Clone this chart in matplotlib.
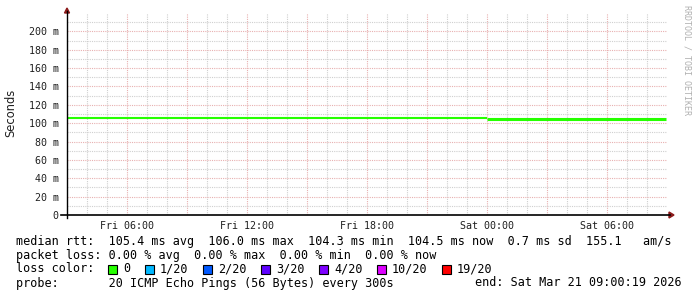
import matplotlib
matplotlib.use("Agg")
import matplotlib.pyplot as plt
from matplotlib.patches import Rectangle, Polygon
from matplotlib.lines import Line2D

# ---- data (hours since Fri 03:00) ----
hours_before = [0.0, 3.0, 6.0, 9.0, 12.0, 15.0, 18.0, 21.0]
rtt_before = [105.9, 105.9, 105.9, 105.9, 105.9, 105.9, 105.9, 105.9]
hours_after = [21.0, 22.0, 24.0, 26.0, 28.0, 29.95]
rtt_after = [104.5, 104.5, 104.5, 104.5, 104.5, 104.5]
tick_hours = [3, 9, 15, 21, 27]
tick_labels = ["Fri 06:00", "Fri 12:00", "Fri 18:00", "Sat 00:00", "Sat 06:00"]
y_ticks = [0, 20, 40, 60, 80, 100, 120, 140, 160, 180, 200]
y_labels = ["0"] + [f"{v} m" for v in y_ticks[1:]]
loss_labels = ["0", "1/20", "2/20", "3/20", "4/20", "10/20", "19/20"]
loss_colors = ["#26ff00", "#00b8ff", "#0059ff", "#5e00ff", "#7e00ff", "#dd00ff", "#ff0000"]
legend_line1 = "median rtt:  105.4 ms avg  106.0 ms max  104.3 ms min  104.5 ms now  0.7 ms sd  155.1   am/s"
legend_line2 = "packet loss: 0.00 % avg  0.00 % max  0.00 % min  0.00 % now"
probe_text = "probe:       20 ICMP Echo Pings (56 Bytes) every 300s"
end_text = "end: Sat Mar 21 09:00:19 2026"

W, H = 697, 297
fig = plt.figure(figsize=(W / 100, H / 100), dpi=100)
fig.patch.set_facecolor("white")

def fx(px):
    return px / W

def fy(py):
    return 1 - py / H

x0, x1, ytop, ybot = 67, 667, 13, 215
ax = fig.add_axes([fx(x0), fy(ybot), fx(x1) - fx(x0), fy(ytop) - fy(ybot)])
ax.set_xlim(0, 30)
ax.set_ylim(0, 220)
for s in ax.spines.values():
    s.set_visible(False)
ax.set_facecolor("white")

mono = "DejaVu Sans Mono"
minor_c = "#cfcfcf"
major_c = "#e8b0b0"
dash = (0, (1, 1))
# grid
for h in range(1, 30):
    if h % 3 == 0:
        continue
    ax.axvline(h, color=minor_c, lw=0.8, ls=dash, zorder=1)
for h in range(3, 30, 3):
    ax.axvline(h, color=major_c, lw=0.8, ls=dash, zorder=1)
for v in range(10, 220, 20):
    ax.axhline(v, color=minor_c, lw=0.8, ls=dash, zorder=1)
for v in y_ticks[1:]:
    ax.axhline(v, color=major_c, lw=0.8, ls=dash, zorder=1)

# data
ax.plot(hours_before, rtt_before, color=loss_colors[0], lw=1.5, solid_capstyle="butt", zorder=3)
ax.plot(hours_after, rtt_after, color=loss_colors[0], lw=2.2, solid_capstyle="butt", zorder=3)

ax.set_xticks(tick_hours)
ax.set_xticklabels(tick_labels, fontfamily=mono, fontsize=7.2)
ax.set_yticks(y_ticks)
ax.set_yticklabels(y_labels, fontfamily=mono, fontsize=7.2)
ax.tick_params(axis="both", length=0, colors="#202020")
ax.tick_params(axis="y", pad=6)
ax.tick_params(axis="x", pad=4)

# axis lines and arrows
fig.add_artist(Line2D([fx(61), fx(670)], [fy(215), fy(215)], color="black", lw=1.2))
fig.add_artist(Line2D([fx(67), fx(67)], [fy(218), fy(11)], color="black", lw=1.0))
fig.add_artist(Polygon([[fx(669), fy(212)], [fx(674), fy(215)], [fx(669), fy(218)]],
                       closed=True, color="#8b1a1a", transform=fig.transFigure))
fig.add_artist(Polygon([[fx(64.5), fy(13)], [fx(67), fy(8)], [fx(69.5), fy(13)]],
                       closed=True, color="#8b1a1a", transform=fig.transFigure))

fig.text(fx(11), fy(113), "Seconds", rotation=90, ha="center", va="center",
         fontsize=8.3, fontfamily="DejaVu Sans", color="#202020")
fig.text(fx(687), fy(5), "RRDTOOL / TOBI OETIKER", rotation=270, ha="center", va="top",
         fontsize=6.0, fontfamily=mono, color="#b0b0b0")

fs = 8.5
fig.text(fx(16), fy(241), legend_line1, fontfamily=mono, fontsize=fs, va="center", ha="left", color="black")
fig.text(fx(16), fy(255), legend_line2, fontfamily=mono, fontsize=fs, va="center", ha="left", color="black")
fig.text(fx(16), fy(269), "loss color:", fontfamily=mono, fontsize=fs, va="center", ha="left", color="black")
fig.text(fx(16), fy(283), probe_text, fontfamily=mono, fontsize=fs, va="center", ha="left", color="black")
fig.text(fx(682), fy(283), end_text, fontfamily=mono, fontsize=fs, va="center", ha="right", color="black")

cw = 7.0
bx = 108
for lab, col in zip(loss_labels, loss_colors):
    fig.add_artist(Rectangle((fx(bx), fy(274)), 9 / W, 9 / H, facecolor=col,
                             edgecolor="black", lw=0.8, transform=fig.transFigure))
    fig.text(fx(bx + 15), fy(269), lab, fontfamily=mono, fontsize=fs, va="center", ha="left", color="black")
    bx = bx + 15 + cw * len(lab) + 15

fig.savefig("out.png", dpi=100, facecolor="white")
